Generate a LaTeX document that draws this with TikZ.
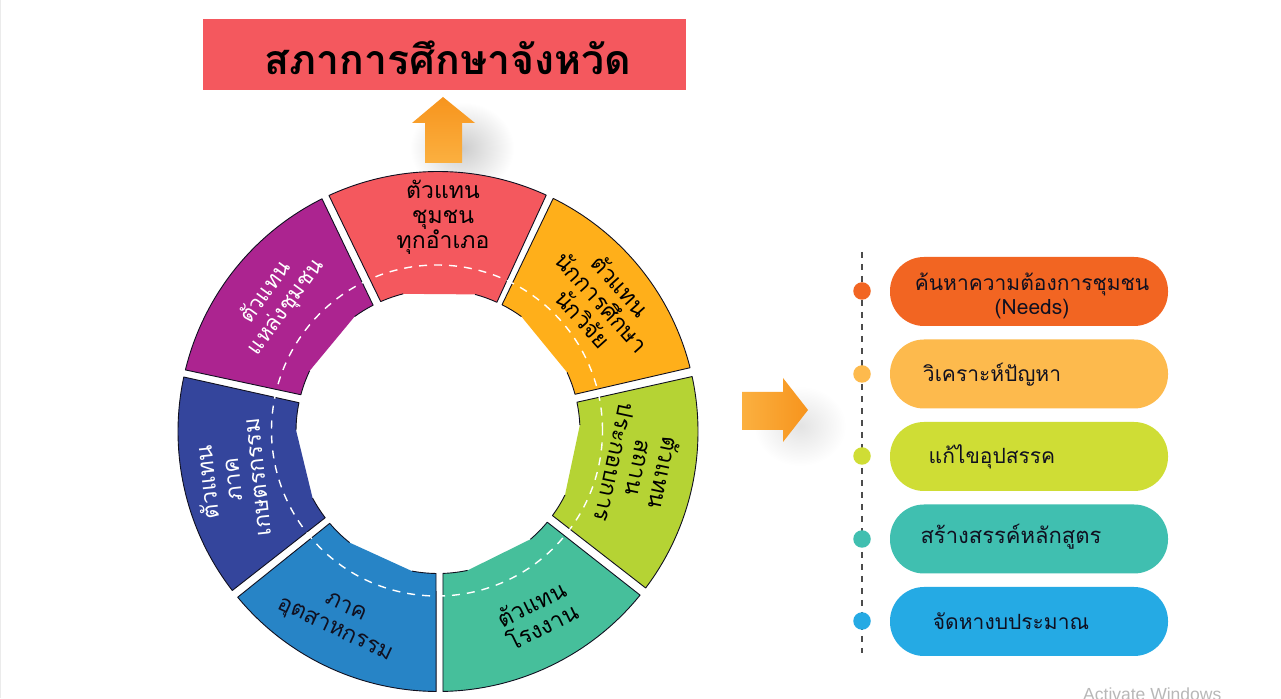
\documentclass[tikz,border=0pt]{standalone}
\usepackage{fontspec}
\setmainfont{Liberation Sans}
\newfontfamily\thaifont[Script=Thai]{Loma}
\definecolor{cRed}{HTML}{F4585E}
\definecolor{cOrange}{HTML}{FFAF1A}
\definecolor{cLime}{HTML}{B5D334}
\definecolor{cTeal}{HTML}{46BF9B}
\definecolor{cBlue}{HTML}{2784C6}
\definecolor{cNavy}{HTML}{34459C}
\definecolor{cPurple}{HTML}{AC2490}
\definecolor{pOne}{HTML}{F26522}
\definecolor{pTwo}{HTML}{FDBA4D}
\definecolor{pThree}{HTML}{CFDD35}
\definecolor{pFour}{HTML}{40BFB0}
\definecolor{pFive}{HTML}{25AAE4}
\definecolor{inkDark}{HTML}{101020}
\definecolor{arrowDeep}{HTML}{F7941D}
\definecolor{arrowPale}{HTML}{FBB040}
\newcommand{\wheelseg}[7]{%
  \fill[#1] (#2:260) arc[start angle=#2,end angle=#3,radius=260]
    -- (#7:142) arc[start angle=#7,end angle=#5,radius=142]
    -- (#4:142) arc[start angle=#4,end angle=#6,radius=142] -- cycle;
  \draw[segline] (#4:142) arc[start angle=#4,end angle=#6,radius=142]
    -- (#2:260) arc[start angle=#2,end angle=#3,radius=260]
    -- (#7:142) arc[start angle=#7,end angle=#5,radius=142];
}
\tikzset{
  x=1pt,y=1pt,
  segline/.style={draw=inkDark,line width=0.9pt,line join=round},
  seglabel/.style={font=\thaifont\fontsize{23}{25}\selectfont,align=center,inner sep=0pt,text=black},
  pill/.style={rectangle,rounded corners=34pt,minimum width=278pt,minimum height=69pt,inner sep=0pt},
  pilltext/.style={font=\thaifont\fontsize{21}{24}\selectfont,align=center,inner sep=0pt,text=inkDark},
  dotmark/.style={circle,minimum size=17.5pt,inner sep=0pt},
}
\begin{document}
\begin{tikzpicture}
\useasboundingbox (0,0) rectangle (1281,698);
\fill[white] (0,0) rectangle (1281,698);
\draw[black!12,line width=1pt] (0,698) -- (1281,698);
\draw[black!8,line width=1pt] (0,698) -- (0,0);
% soft shadows
\shade[inner color=black!20,outer color=white] (462,550) ellipse [x radius=52,y radius=46];
\shade[inner color=black!11,outer color=white] (800,272) ellipse [x radius=46,y radius=40];
% title
\node[fill=cRed,minimum width=483pt,minimum height=71pt,inner sep=0pt] (titlebox) at (444.5,643.5) {};
\node[font=\thaifont\bfseries\fontsize{41}{44}\selectfont,text=black,inner sep=0pt] (titletext) at (448,640) {สภาการศึกษาจังหวัด};
% up arrow
\shade[top color=arrowDeep,bottom color=arrowPale]
  (443,601) -- (475,575) -- (462,575) -- (462,535) -- (425,535) -- (425,575) -- (412,575) -- cycle;
% wheel
\begin{scope}[shift={(438,266.5)}]
\wheelseg{cRed}{65.4}{114.8}{74.9}{104.2}{65.5}{113.8}
\wheelseg{cOrange}{14.2}{63.7}{24.6}{54}{15.2}{63.2}
\wheelseg{cLime}{-37}{12.2}{-26.6}{2.6}{-36.3}{11.9}
\wheelseg{cTeal}{-88.9}{-39}{-78}{-49.4}{-88}{-39.7}
\wheelseg{cBlue}{219.6}{269.6}{231.5}{259.4}{220.3}{269.2}
\wheelseg{cNavy}{167.9}{217.7}{179.4}{208}{168.3}{217.4}
\wheelseg{cPurple}{116.5}{166.3}{126}{154.7}{117.2}{165}
\draw[white,line width=1.4pt,dash pattern=on 8pt off 7pt] (-1,1) circle [radius=165.5];
\end{scope}
% wheel labels
\node[seglabel] (lblRed) at (443,481) {ตัวแทน\\ชุมชน\\ทุกอำเภอ};
\node[seglabel,rotate=-48] (lblOrange) at (602,396) {ตัวแทน\\นักการศึกษา\\นักวิจัย};
\node[seglabel,rotate=-102] (lblLime) at (640,230) {ตัวแทน\\สถาน\\ประกอบการ};
\node[seglabel,rotate=26] (lblTeal) at (537,83) {ตัวแทน\\โรงงาน};
\node[seglabel,rotate=-25,text=inkDark] (lblBlue) at (340,78) {ภาค\\อุตสาหกรรม};
\node[seglabel,rotate=96,text=white] (lblNavy) at (231,218) {ตัวแทน\\ภาค\\เกษตรกรรม};
\node[seglabel,rotate=54,text=white,font=\thaifont\fontsize{22}{25}\selectfont] (lblPurple) at (276,398) {ตัวแทน\\แหล่งชุมชน};
% right arrow
\shade[left color=arrowPale,right color=arrowDeep]
  (742,306) -- (783,306) -- (783,320) -- (808,288) -- (783,256) -- (783,268) -- (742,268) -- cycle;
% timeline
\coordinate (lineTop) at (862,446);
\coordinate (lineEnd) at (862,45);
\draw[black!70,line width=1.2pt,dash pattern=on 6pt off 6pt] (lineTop) -- (lineEnd);
\node[dotmark,fill=pOne] (d1) at (862,407) {};
\node[dotmark,fill=pTwo] (d2) at (862,324) {};
\node[dotmark,fill=pThree] (d3) at (862,242) {};
\node[dotmark,fill=pFour] (d4) at (862,159) {};
\node[dotmark,fill=pFive] (d5) at (862,77) {};
% pills
\node[pill,fill=pOne] (p1) at (1029,406.5) {};
\node[pill,fill=pTwo] (p2) at (1029,324) {};
\node[pill,fill=pThree] (p3) at (1029,241.5) {};
\node[pill,fill=pFour] (p4) at (1029,159) {};
\node[pill,fill=pFive] (p5) at (1029,76.5) {};
\node[pilltext] (t1) at (1032,402) {ค้นหาความต้องการชุมชน\\(Needs)};
\node[pilltext] (t2) at (992,323) {วิเคราะห์ปัญหา};
\node[pilltext] (t3) at (992,241) {แก้ไขอุปสรรค};
\node[pilltext,font=\thaifont\fontsize{22}{24}\selectfont] (t4) at (1011,161) {สร้างสรรค์หลักสูตร};
\node[pilltext] (t5) at (1011,77) {จัดหางบประมาณ};
% watermark
\node[text=black!28,font=\fontsize{17.5}{19}\selectfont,inner sep=0pt,anchor=west] (wm) at (1083,4) {Activate Windows};
\end{tikzpicture}
\end{document}
